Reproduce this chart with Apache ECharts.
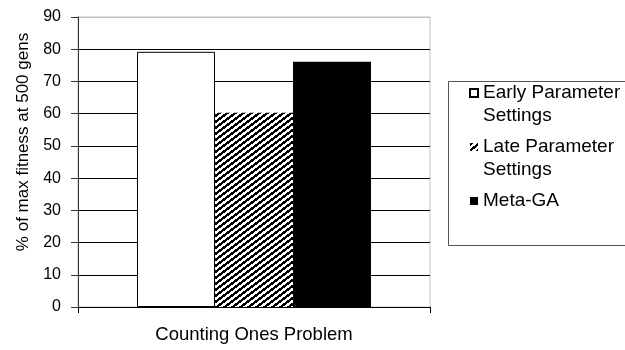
<!DOCTYPE html>
<html>
<head>
<meta charset="utf-8">
<script src="https://cdn.jsdelivr.net/npm/echarts@6/dist/echarts.min.js"></script>
<style>
html,body{margin:0;padding:0;background:#fff;}
#chart{width:625px;height:350px;}
</style>
</head>
<body>
<div id="chart"></div>
<script>
var categories = ['Counting Ones Problem'];
var seriesNames = ['Early Parameter Settings', 'Late Parameter Settings', 'Meta-GA'];
var earlyValues = [79.2];
var lateValues = [60.3];
var metaValues = [76.1];
var yTicks = [0, 10, 20, 30, 40, 50, 60, 70, 80, 90];

function makeHatch() {
  var w = 8, h = 6, period = 8, slope = 8 / 6;
  var c = document.createElement('canvas');
  c.width = w; c.height = h;
  var ctx = c.getContext('2d');
  ctx.fillStyle = '#fff';
  ctx.fillRect(0, 0, w, h);
  ctx.fillStyle = '#000';
  for (var y = 0; y < h; y++) {
    for (var x = 0; x < w; x++) {
      var t = ((x + 0.5) + slope * (y + 0.5)) % period;
      if (t < period / 2) ctx.fillRect(x, y, 1, 1);
    }
  }
  return c;
}
var hatch = { image: makeHatch(), repeat: 'repeat' };

var font = 'Liberation Sans, Arial, sans-serif';
var chart = echarts.init(document.getElementById('chart'), null, { renderer: 'canvas' });

var splitColors = yTicks.map(function (v, i) { return i === yTicks.length - 1 ? '#c0c0c0' : '#000'; });

var legendLabels = {
  'Early Parameter Settings': '\nEarly Parameter\nSettings',
  'Late Parameter Settings': '\nLate Parameter\nSettings',
  'Meta-GA': '\nMeta-GA\n'
};

chart.setOption({
  animation: false,
  backgroundColor: '#fff',
  grid: { left: 78, right: 195, top: 17, bottom: 43, show: true, borderColor: '#c0c0c0', borderWidth: 1, containLabel: false },
  graphic: [{
    type: 'rect', left: 446, top: 79, z: 0,
    shape: { width: 190, height: 164 },
    style: { fill: 'none', stroke: '#555', lineWidth: 1 }
  }],
  legend: {
    orient: 'vertical',
    left: 469, top: 58.5,
    padding: 0,
    itemGap: -15,
    itemWidth: 8, itemHeight: 8,
    icon: 'rect',
    selectedMode: false,
    data: seriesNames,
    formatter: function (n) { return legendLabels[n]; },
    textStyle: { fontFamily: font, fontSize: 19, lineHeight: 23, color: '#000' }
  },
  xAxis: {
    type: 'category',
    data: categories,
    axisLine: { lineStyle: { color: '#000', width: 1 } },
    axisTick: { show: true, length: 6, lineStyle: { color: '#000' } },
    axisLabel: { fontFamily: font, fontSize: 18.5, color: '#000', margin: 18 },
    splitLine: { show: false }
  },
  yAxis: {
    type: 'value',
    min: 0, max: 90, interval: 10,
    name: '% of max fitness at 500 gens',
    nameLocation: 'middle',
    nameGap: 45,
    nameTextStyle: { fontFamily: font, fontSize: 17, color: '#000', padding: [0, 0, 0, 40] },
    axisLine: { show: true, lineStyle: { color: '#333', width: 1 } },
    axisTick: { show: true, length: 7, lineStyle: { color: '#333' } },
    axisLabel: { fontFamily: font, fontSize: 16, color: '#000', margin: 17 },
    splitLine: { show: true, lineStyle: { color: splitColors, width: 1 } }
  },
  series: [
    { name: seriesNames[0], type: 'bar', data: earlyValues, barWidth: 78, barGap: '0%',
      itemStyle: { color: '#fff', borderColor: '#000', borderWidth: 1 } },
    { name: seriesNames[1], type: 'bar', data: lateValues, barWidth: 78, barGap: '0%',
      itemStyle: { color: hatch, borderWidth: 0 } },
    { name: seriesNames[2], type: 'bar', data: metaValues, barWidth: 78, barGap: '0%',
      itemStyle: { color: '#000', borderWidth: 0 } }
  ]
});
</script>
</body>
</html>
